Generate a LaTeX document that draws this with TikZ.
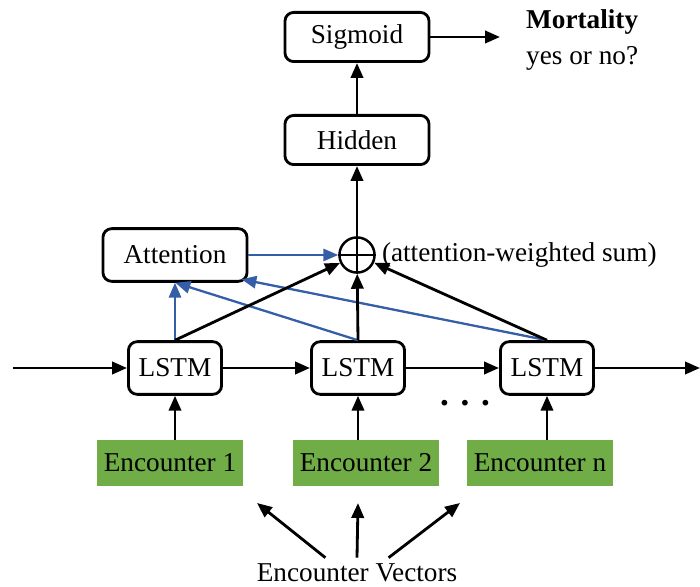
\documentclass[tikz,border=0pt]{standalone}
\usepackage{fontspec}
\setmainfont{Liberation Serif}
\usetikzlibrary{arrows.meta}
\definecolor{attblue}{RGB}{52,94,168}
\definecolor{encgreen}{RGB}{112,173,71}
\tikzset{box/.style={draw,line width=1.6pt,rounded corners=5pt,minimum height=28pt},
    encbox/.style={fill=encgreen,minimum width=83pt,minimum height=26pt},
    sumnode/.style={draw,line width=1.4pt,circle,minimum size=20pt,inner sep=0pt},
    arr/.style={line width=1.6pt,-{Triangle[length=8.5pt,width=7pt]}},
    battr/.style={arr,line width=1.3pt,attblue}}

\begin{document}
\begin{tikzpicture}[x=0.02cm,y=-0.02cm,font=\fontsize{15.5}{19}\selectfont]
\useasboundingbox (0,0) rectangle (700,587);
% output part
\node[box,minimum width=82pt] (sig) at (357,37) {Sigmoid};
\node[box,minimum width=82pt] (hid) at (357,140) {Hidden};
\node[anchor=west,align=left,font=\fontsize{15.5}{20.5}\selectfont] (mort) at (520,40) {\textbf{Mortality}\\yes or no?};
\coordinate (mortin) at (500,37);
\node[sumnode] (sum) at (357,255) {};
\draw[line width=1.4pt] (sum.north) -- (sum.south) (sum.west) -- (sum.east);
\node[anchor=west] (sumtxt) at (sum.east) {(attention-weighted sum)};
\node[box,minimum width=82pt,minimum height=30pt] (att) at (175,255) {Attention};
% lstm chain
\node[box,minimum width=53pt,minimum height=30pt] (l1) at (175,368) {LSTM};
\node[box,minimum width=53pt,minimum height=30pt] (l2) at (358,368) {LSTM};
\node[box,minimum width=53pt,minimum height=30pt] (l3) at (547,368) {LSTM};
\coordinate (in) at (13,368);
\coordinate (out) at (700,368);
\node[font=\fontsize{20}{20}\selectfont] (dots) at (465,403) {\textbf{. . .}};
% encounters
\node[encbox] (e1) at (170,463) {Encounter 1};
\node[encbox] (e2) at (366,463) {Encounter 2};
\node[encbox] (en) at (540,463) {Encounter n};
\node (vec) at (357,573) {Encounter Vectors};
\coordinate (v1) at (257,503);
\coordinate (v2) at (358,503);
\coordinate (v3) at (460,503);

\draw[arr] (sig) -- (mortin);
\draw[arr] (hid) -- (sig);
\draw[arr] (sum) -- (hid);
\draw[battr] (att) -- (sum);
\draw[arr] (in) -- (l1);
\draw[arr] (l1) -- (l2);
\draw[arr] (l2) -- (l3);
\draw[arr] (l3) -- (out);
\draw[arr] (e1.north -| l1) -- (l1);
\draw[arr] (e2.north -| l2) -- (l2);
\draw[arr] (en.north -| l3) -- (l3);
% attention inputs
\draw[battr] (l1.north) -- (att.south -| l1.north);
\draw[battr] (l2.north) -- ([xshift=42pt]att.south west);
\draw[battr] (l3.north) -- ([xshift=-4pt,yshift=2pt]att.south east);
\draw[arr] (l1.north) -- (sum);
\draw[arr] (l2.north) -- (sum);
\draw[arr] (l3.north) -- (sum);
% encounter vectors
\draw[arr] ([xshift=-18pt]vec.north) -- (v1);
\draw[arr] (vec.north) -- (v2);
\draw[arr] ([xshift=18pt]vec.north) -- (v3);
\end{tikzpicture}
\end{document}
